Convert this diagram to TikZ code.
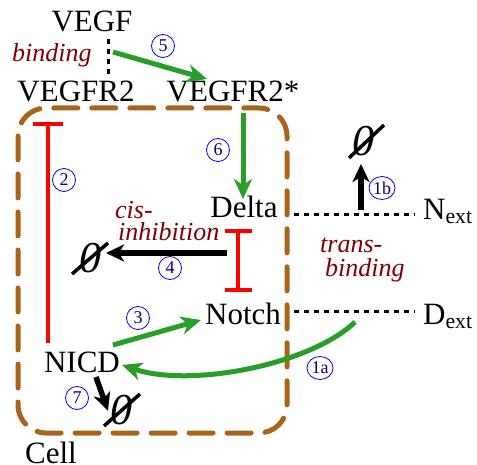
\documentclass[tikz,border=0pt]{standalone}
\usepackage{fontspec}
\setmainfont{Liberation Serif}
\usetikzlibrary{arrows.meta,shapes.geometric}
\definecolor{cellbrown}{RGB}{168,100,26}
\definecolor{agreen}{RGB}{40,158,40}
\definecolor{darkred}{RGB}{128,0,0}
\definecolor{numblue}{RGB}{0,0,128}
\begin{document}
\begin{tikzpicture}[x=1pt,y=-1pt,
  lbl/.style={font=\fontsize{31}{34}\selectfont, inner sep=0pt, anchor=base},
  itl/.style={font=\fontsize{26}{28}\selectfont\itshape, text=darkred, inner sep=0pt, anchor=base west},
  num/.style={circle, draw=blue, line width=0.8pt, text=numblue, font=\fontsize{18}{18}\selectfont, inner sep=0pt, minimum size=23pt},
  numw/.style={ellipse, draw=blue, line width=0.8pt, text=numblue, font=\fontsize{18}{18}\selectfont, inner sep=0pt, minimum width=26pt, minimum height=23pt},
  grn/.style={draw=agreen, line width=5pt, -{Stealth[length=20pt,width=18pt,inset=6pt]}},
  blk/.style={draw=black, line width=5.5pt, -{Stealth[length=18pt,width=17pt,inset=5pt]}},
  inh/.style={draw=red, line width=4pt},
  dots/.style={draw=black, line width=3pt, dash pattern=on 5pt off 5pt},
  nul/.style={font=\fontsize{44}{44}\selectfont\itshape, inner sep=0pt},
  slash/.style={draw=black, line width=3.5pt}
]
\useasboundingbox (0,0) rectangle (477,465);

% cell
\draw[cellbrown, line width=5pt, line cap=round, dash pattern=on 24pt off 14pt, rounded corners=28pt]
  (18,108) rectangle (287,433);

% labels
\node[lbl] (vegf) at (92,32) {VEGF};
\node[lbl] (vegfr) at (76,102) {VEGFR2};
\node[lbl] (vegfrs) at (233,102) {VEGFR2*};
\node[lbl] (delta) at (244,218) {Delta};
\node[lbl] (notch) at (243,325) {Notch};
\node[lbl] (nicd) at (82,372) {NICD};
\node[lbl] (cell) at (51,463) {Cell};
\node[lbl, anchor=base west] (next) at (423,220) {N\textsubscript{ext}};
\node[lbl, anchor=base west] (dext) at (423,325) {D\textsubscript{ext}};

\node[itl] (bind) at (12,62) {binding};
\node[itl] (cis) at (115,219) {cis-};
\node[itl] (inhib) at (118,241) {inhibition};
\node[itl] (trans) at (320,253) {trans-};
\node[itl] (tbind) at (325,277) {binding};

% null symbols
\node[nul] (n1b) at (363,141) {0};
\draw[slash] ([shift={(-14,17)}]n1b.center) -- ([shift={(21,-16)}]n1b.center);
\node[nul] (n4) at (90,258) {0};
\draw[slash] ([shift={(-18,16)}]n4.center) -- ([shift={(18,-15)}]n4.center);
\node[nul] (n7) at (121,410) {0};
\draw[slash] ([shift={(-17,16)}]n7.center) -- ([shift={(19,-16)}]n7.center);

% dotted binding lines
\coordinate (vb1) at (108,39);
\coordinate (vb2) at (108,78);
\draw[dots] (vb1) -- (vb2);
\coordinate (dl) at (294,215);
\coordinate (nl) at (415,215);
\draw[dots] (dl) -- (nl);
\coordinate (nt) at (294,312);
\coordinate (dx) at (415,312);
\draw[dots] (nt) -- (dx);

% green arrows
\coordinate (a5s) at (113,52);
\coordinate (a5e) at (207,79);
\draw[grn] (a5s) -- (a5e);
\coordinate (a6s) at (243,113);
\coordinate (a6e) at (243,199);
\draw[grn] (a6s) -- (a6e);
\coordinate (a3s) at (113,345);
\coordinate (a3e) at (201,320);
\draw[grn] (a3s) -- (a3e);
\coordinate (a1s) at (355,322);
\coordinate (a1e) at (122,365);
\draw[grn] (a1s) .. controls (310,365) and (190,388) .. (a1e);

% black arrows
\coordinate (a4s) at (227,253);
\coordinate (a4e) at (106,253);
\draw[blk] (a4s) -- (a4e);
\coordinate (a1bs) at (361,210);
\coordinate (a1be) at (361,164);
\draw[blk] (a1bs) -- (a1be);
\coordinate (a7s) at (96,377);
\coordinate (a7e) at (108,411);
\draw[blk] (a7s) -- (a7e);

% inhibitions
\coordinate (r2s) at (48,343);
\coordinate (r2e) at (48,122);
\draw[inh, -{Bar[width=30pt]}] (r2s) -- (r2e);
\coordinate (rds) at (238,229);
\coordinate (rde) at (238,292);
\draw[inh, {Bar[width=27pt]}-{Bar[width=27pt]}] (rds) -- (rde);

% step numbers
\node[num] (s5) at (163,46) {5};
\node[num] (s2) at (64,180) {2};
\node[num] (s6) at (218,150) {6};
\node[num] (s4) at (170,268) {4};
\node[num] (s3) at (138,318) {3};
\node[num] (s7) at (77,398) {7};
\node[numw] (s1a) at (320,368) {1a};
\node[numw] (s1b) at (382,188) {1b};
\end{tikzpicture}
\end{document}
